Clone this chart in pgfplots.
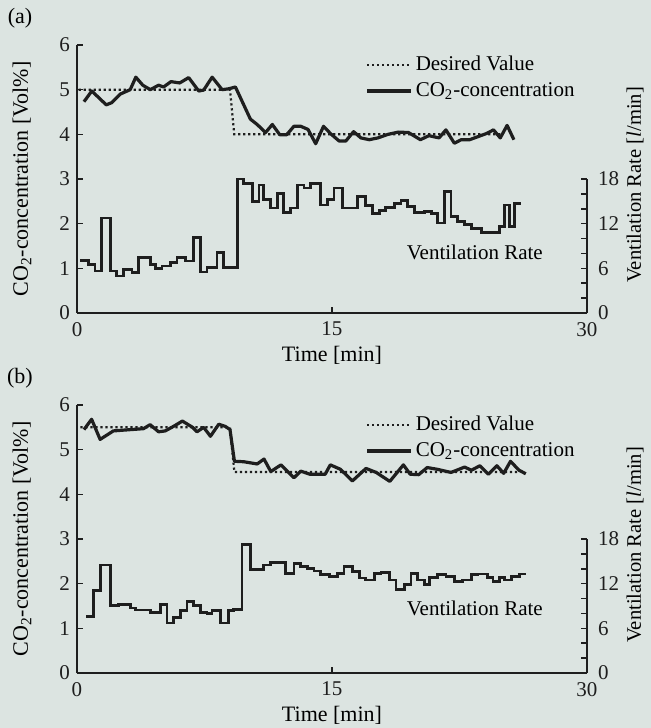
\documentclass[border=0pt]{standalone}
\usepackage{fontspec}
\setmainfont{Liberation Serif}
\usepackage{pgfplots}
\pgfplotsset{compat=1.18}
\definecolor{bg}{HTML}{DCE4E1}
\definecolor{ink}{HTML}{1E1E1E}
\tikzset{lab/.style={font=\fontsize{11}{13}\selectfont}}

\pgfplotsset{
  panel/.style={
    width=255pt, height=134pt, scale only axis,
    xmin=0, xmax=30, ymin=0, ymax=6,
    axis lines=left, axis line style={-, line width=1pt, ink},
    tick align=inside, major tick length=3pt,
    tick style={line width=0.8pt, ink},
    xtick={0,15,30}, xticklabels={\textrm{0},\textrm{15},\textrm{30}},
    ytick={0,1,...,6},
    yticklabels={\textrm{0},\textrm{1},\textrm{2},\textrm{3},\textrm{4},\textrm{5},\textrm{6}},
    ticklabel style={font=\fontsize{10.5}{12}\selectfont, text=ink},
    xticklabel style={yshift=-1pt},
    xlabel={Time [min]},
    xlabel style={font=\fontsize{11}{13}\selectfont, at={(rel axis cs:0.5,0)}, yshift=-13pt, anchor=north},
    clip=false,
    legend cell align=left,
    legend style={draw=none, fill=none, font=\fontsize{10.5}{13}\selectfont,
      at={(rel axis cs:0.565,0.972)}, anchor=north west, row sep=1.5pt,
      inner sep=0pt, nodes={inner sep=1.5pt}},
    legend image code/.code={\draw[##1] (0pt,0pt) -- (22pt,0pt);},
  },
  vent/.style={
    width=255pt, height=134pt, scale only axis,
    xmin=0, xmax=30, ymin=0, ymax=36,
    hide x axis, axis y line*=right, y axis line style={draw=none},
    tick align=inside, major tick length=3pt,
    tick style={line width=0.8pt, ink},
    ytick={0,2,...,18}, yticklabels={\textrm{0},,,\textrm{6},,,\textrm{12},,,\textrm{18}},
    ticklabel style={font=\fontsize{10.5}{12}\selectfont, text=ink},
    yticklabel style={xshift=2pt},
    clip=false,
  },
  des/.style={ink, line width=1.1pt, dash pattern=on 1.1pt off 1.4pt},
  co/.style={ink, line width=1.6pt, line join=round},
  vr/.style={ink, line width=1.4pt, const plot},
}

\begin{document}
\begin{tikzpicture}
\useasboundingbox[fill=bg] (-38.5pt,-27.5pt) rectangle (287pt,336.5pt);

% ---------------- (a) ----------------
\begin{axis}[panel, at={(0,180pt)}, anchor=south west]
\addplot[des] coordinates {(0.1,5) (9.0,5) (9.1,4.6) (9.25,4) (25.0,4)};
\addplot[co] coordinates {
 (0.41,4.73) (0.87,4.97) (1.72,4.66) (2.05,4.71) (2.54,4.90) (3.13,5.0)
 (3.46,5.28) (3.87,5.10) (4.31,5.0) (4.8,5.10) (5.09,5.06) (5.53,5.18)
 (6.04,5.15) (6.57,5.27) (7.16,4.97) (7.45,4.99) (7.95,5.28) (8.54,5.0)
 (8.93,5.02) (9.32,5.06) (10.2,4.34) (10.6,4.22) (11.09,4.04) (11.49,4.22)
 (11.93,3.99) (12.33,3.99) (12.76,4.18) (13.16,4.18) (13.59,4.11) (14.04,3.79)
 (14.5,4.18) (14.93,4.01) (15.42,3.85) (15.81,3.85) (16.27,4.06) (16.7,3.92)
 (17.19,3.88) (17.7,3.92) (18.3,4.0) (18.9,4.05) (19.5,4.04) (20.2,3.88)
 (20.7,3.97) (21.3,3.92) (21.7,4.1) (22.2,3.8) (22.6,3.88) (23.1,3.88)
 (23.6,3.95) (24.1,4.02) (24.5,4.1) (24.9,3.92) (25.3,4.2) (25.7,3.88)};
\legend{Desired Value, CO\textsubscript{2}-concentration}
\node[lab] at (rel axis cs:0,1) [xshift=-28.5pt, yshift=13.5pt] {(a)};
\node[font=\fontsize{10.5}{13}\selectfont] at (rel axis cs:0.78,0.228) {Ventilation Rate};
\node[lab, xshift=-27.5pt, rotate=90] at (rel axis cs:0,0.5) {CO\textsubscript{2}-concentration [Vol\%]};
\end{axis}
\begin{axis}[vent, at={(0,180pt)}, anchor=south west]
\draw[ink, line width=1pt] (axis cs:30,0) -- (axis cs:30,18);
\addplot[vr] coordinates {
 (0.18,7.1) (0.67,6.53) (1.06,5.64) (1.46,12.76) (1.95,5.64) (2.34,4.98)
 (2.73,5.87) (3.23,5.42) (3.62,7.42) (4.31,6.53) (4.6,5.96) (5.0,6.31)
 (5.49,6.76) (5.88,7.42) (6.37,6.98) (6.86,10.1) (7.26,5.5) (7.65,6.09)
 (8.24,8.09) (8.63,6.09) (9.42,18.0) (9.81,17.4) (10.3,15.0) (10.7,17.2)
 (10.99,15.2) (11.39,14.1) (11.78,16.1) (12.17,13.5) (12.57,14.1) (12.96,17.2)
 (13.35,16.8) (13.75,17.4) (14.34,14.5) (14.73,15.2) (15.12,16.8) (15.61,14.1)
 (16.5,15.6) (16.99,14.4) (17.39,13.4) (17.78,13.8) (18.17,14.2) (18.66,14.7)
 (19.06,15.1) (19.45,14.3) (19.84,13.5) (20.43,13.6) (20.83,13.4) (21.22,12.1)
 (21.61,16.3) (22.0,13.0) (22.4,12.3) (22.79,11.9) (23.19,11.4) (23.78,10.8)
 (24.86,11.6) (25.15,14.5) (25.45,11.6) (25.74,14.7) (26.1,14.7)};
\node[font=\fontsize{10.3}{12}\selectfont, xshift=24pt, rotate=90] at (rel axis cs:1,0.478) {Ventilation Rate [\textit{l}/min]};
\end{axis}

% ---------------- (b) ----------------
\begin{axis}[panel, at={(0,0)}, anchor=south west]
\addplot[des] coordinates {(0.2,5.5) (9.0,5.5) (9.1,5.1) (9.26,4.5) (25.9,4.5)};
\addplot[co] coordinates {
 (0.41,5.45) (0.86,5.68) (1.36,5.23) (2.14,5.42) (2.83,5.44) (3.91,5.47)
 (4.3,5.56) (4.8,5.40) (5.19,5.42) (5.67,5.52) (6.2,5.64) (6.8,5.50)
 (7.06,5.40) (7.45,5.50) (7.85,5.30) (8.34,5.57) (8.73,5.52) (9.0,5.45)
 (9.26,4.74) (9.81,4.73) (10.6,4.68) (11.0,4.79) (11.4,4.51) (12.0,4.66)
 (12.76,4.37) (13.16,4.52) (13.7,4.45) (14.6,4.45) (14.9,4.66) (15.5,4.56)
 (16.2,4.30) (17.0,4.58) (17.6,4.49) (18.4,4.29) (19.2,4.66) (19.6,4.45)
 (20.1,4.44) (20.6,4.60) (21.2,4.56) (22.0,4.49) (22.8,4.61) (23.2,4.54)
 (23.7,4.64) (24.2,4.45) (24.7,4.64) (25.1,4.47) (25.5,4.74) (26.0,4.54)
 (26.4,4.46)};
\legend{Desired Value, CO\textsubscript{2}-concentration}
\node[lab] at (rel axis cs:0,1) [xshift=-28.5pt, yshift=13.5pt] {(b)};
\node[font=\fontsize{10.5}{13}\selectfont] at (rel axis cs:0.78,0.24) {Ventilation Rate};
\node[lab, xshift=-27.5pt, rotate=90] at (rel axis cs:0,0.5) {CO\textsubscript{2}-concentration [Vol\%]};
\end{axis}
\begin{axis}[vent, at={(0,0)}, anchor=south west]
\draw[ink, line width=1pt] (axis cs:30,0) -- (axis cs:30,18);
\addplot[vr] coordinates {
 (0.53,7.6) (0.96,11.1) (1.36,14.5) (1.95,9.04) (2.44,9.17) (3.13,8.74)
 (3.42,8.47) (4.31,8.17) (4.9,9.2) (5.29,6.73) (5.68,7.42) (6.08,8.38)
 (6.47,9.6) (6.86,9.04) (7.26,8.17) (7.65,7.96) (7.94,8.38) (8.44,6.73)
 (8.93,8.38) (9.22,8.5) (9.71,17.3) (10.2,13.85) (10.99,14.5) (11.39,14.85)
 (12.27,13.4) (12.76,14.7) (13.16,14.3) (13.55,14.0) (13.94,13.7) (14.34,13.2)
 (14.83,13.0) (15.32,13.4) (15.71,14.3) (16.2,13.6) (16.6,12.76) (16.99,12.5)
 (17.48,13.4) (17.88,13.5) (18.37,12.5) (18.76,11.2) (19.25,11.9) (19.65,13.4)
 (20.04,12.5) (20.43,11.9) (20.73,12.8) (21.22,13.2) (21.71,13.0) (22.2,12.3)
 (22.69,12.5) (23.19,13.2) (23.58,13.3) (24.17,12.8) (24.47,12.3) (24.86,12.8)
 (25.15,12.5) (25.55,13.0) (26.04,13.3) (26.44,13.3)};
\node[font=\fontsize{10.3}{12}\selectfont, xshift=24pt, rotate=90] at (rel axis cs:1,0.478) {Ventilation Rate [\textit{l}/min]};
\end{axis}
\end{tikzpicture}
\end{document}
